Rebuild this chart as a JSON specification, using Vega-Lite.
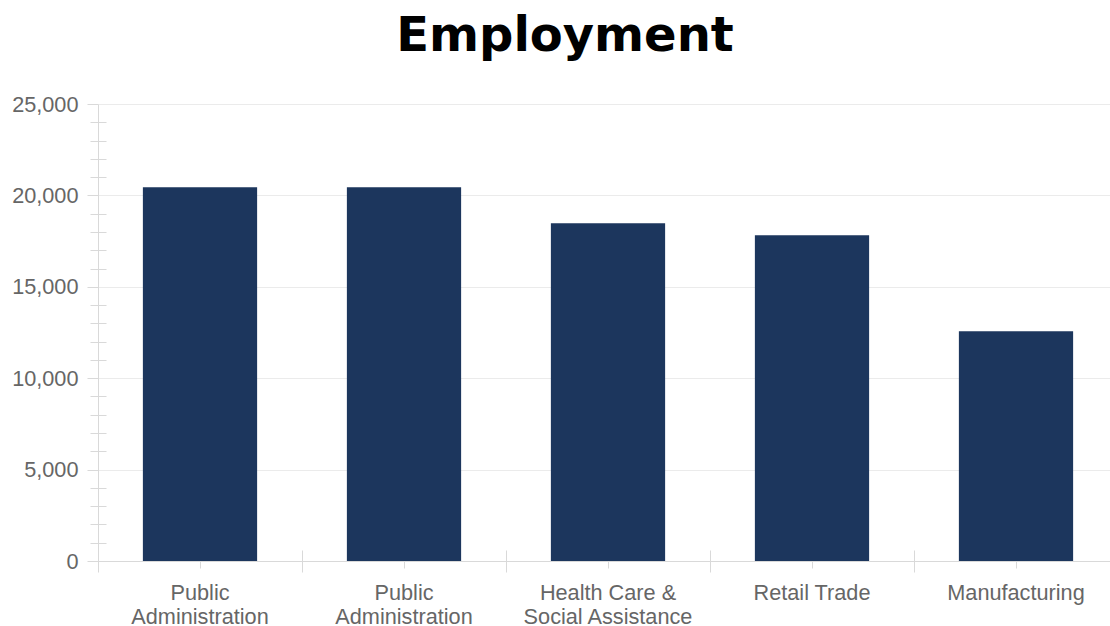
{
  "$schema": "https://vega.github.io/schema/vega-lite/v6.json",
  "autosize": "none",
  "width": 1012,
  "height": 457,
  "padding": {"left": 98, "top": 104, "right": 0, "bottom": 65},
  "background": "white",
  "title": {
    "text": "Employment",
    "font": "DejaVu Sans",
    "fontWeight": "bold",
    "fontSize": 48,
    "color": "#000000",
    "anchor": "middle",
    "baseline": "alphabetic",
    "offset": 52,
    "dx": -39,
    "dy": 57
  },
  "data": {
    "values": [
      {"key": "1|Public|Administration", "industry": "Public Administration", "employment": 20450},
      {"key": "2|Public|Administration", "industry": "Public Administration", "employment": 20450},
      {"key": "3|Health Care &|Social Assistance", "industry": "Health Care & Social Assistance", "employment": 18480},
      {"key": "4|Retail Trade", "industry": "Retail Trade", "employment": 17820},
      {"key": "5|Manufacturing", "industry": "Manufacturing", "employment": 12570}
    ]
  },
  "config": {
    "view": {"stroke": null},
    "axis": {
      "labelFont": "Liberation Sans",
      "labelFontSize": 21.7,
      "labelColor": "#666666",
      "domainColor": "#d9d9d9",
      "tickColor": "#d9d9d9",
      "gridColor": "#ebebeb",
      "title": null
    }
  },
  "layer": [
    {
      "mark": {"type": "bar", "color": "#1c365d"},
      "encoding": {
        "x": {
          "field": "key",
          "type": "nominal",
          "sort": null,
          "scale": {"range": [0, 1020], "paddingInner": 0.44, "paddingOuter": 0.22},
          "axis": {
            "orient": "bottom",
            "labelAngle": 0,
            "labelExpr": "slice(split(datum.value, '|'), 1)",
            "labelLineHeight": 24,
            "labelPadding": 14,
            "labelBaseline": "top",
            "tickSize": 7,
            "domain": true,
            "grid": false
          }
        },
        "y": {
          "field": "employment",
          "type": "quantitative",
          "scale": {"domain": [0, 25000], "nice": false},
          "axis": {
            "orient": "left",
            "values": [0, 5000, 10000, 15000, 20000, 25000],
            "format": ",.0f",
            "tickSize": 11,
            "labelPadding": 9,
            "domain": true,
            "grid": true
          }
        }
      }
    },
    {
      "mark": {"type": "bar", "opacity": 0},
      "encoding": {
        "x": {
          "field": "key",
          "type": "nominal",
          "sort": null,
          "scale": {"range": [0, 1020], "paddingInner": 0, "paddingOuter": 0},
          "axis": {
            "orient": "bottom",
            "labels": false,
            "tickBand": "extent",
            "offset": -11,
            "tickSize": 22,
            "domain": false,
            "grid": false
          }
        },
        "y": {
          "field": "employment",
          "type": "quantitative",
          "scale": {"domain": [0, 25000], "nice": false},
          "axis": {
            "orient": "left",
            "values": [1000, 2000, 3000, 4000, 6000, 7000, 8000, 9000, 11000, 12000, 13000, 14000, 16000, 17000, 18000, 19000, 21000, 22000, 23000, 24000],
            "labels": false,
            "offset": -8,
            "tickSize": 16,
            "domain": false,
            "grid": false
          }
        }
      }
    }
  ],
  "resolve": {"scale": {"x": "independent", "y": "independent"}}
}
